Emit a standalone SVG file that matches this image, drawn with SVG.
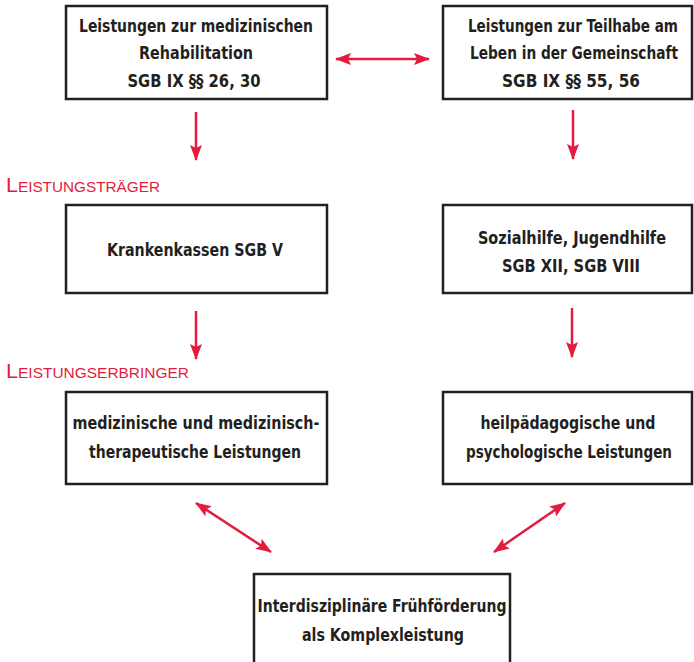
<svg xmlns="http://www.w3.org/2000/svg" width="694" height="662" viewBox="0 0 694 662">
<style>
.box{fill:#fff;stroke:#231f20;stroke-width:2.5}
.t{font-family:"DejaVu Sans Condensed","DejaVu Sans",sans-serif;font-weight:bold;font-size:18px;fill:#231f20;text-anchor:middle}
.lbl{font-family:"Liberation Sans",sans-serif;fill:#e31c3d;font-size:15px}
.lbl .big{font-size:21px}
.arr{stroke:#e31c3d;stroke-width:2.5;fill:none;marker-end:url(#ah)}
.dbl{marker-start:url(#ah)}
</style>
<defs>
<marker id="ah" viewBox="0 0 16 12" refX="15" refY="6" markerWidth="16" markerHeight="12" markerUnits="userSpaceOnUse" orient="auto-start-reverse">
<path d="M0,0 L16,6 L0,12 L3,6 Z" fill="#e31c3d"/>
</marker>
</defs>
<rect width="694" height="662" fill="#fff"/>
<g id="connectors">
<line class="arr dbl" x1="336" y1="59" x2="429" y2="59"/>
<line class="arr" x1="196" y1="112" x2="196" y2="160"/>
<line class="arr" x1="573" y1="110" x2="573" y2="159"/>
<line class="arr" x1="196" y1="311" x2="196" y2="359"/>
<line class="arr" x1="572" y1="308" x2="572" y2="357"/>
<line class="arr dbl" x1="196" y1="503" x2="271" y2="552"/>
<line class="arr dbl" x1="565" y1="503" x2="494" y2="552"/>
</g>
<g id="label-traeger"><text class="lbl" x="6" y="192" textLength="154" lengthAdjust="spacingAndGlyphs"><tspan class="big">L</tspan>EISTUNGSTRÄGER</text></g>
<g id="label-erbringer"><text class="lbl" x="6" y="378" textLength="183" lengthAdjust="spacingAndGlyphs"><tspan class="big">L</tspan>EISTUNGSERBRINGER</text></g>
<g id="n1">
<rect class="box" x="66" y="6" width="261" height="93"/>
<g transform="scale(0.85,1)">
<text class="t" x="230.6" y="32" textLength="275.3" lengthAdjust="spacingAndGlyphs">Leistungen zur medizinischen</text>
<text class="t" x="230.6" y="59" textLength="134.1" lengthAdjust="spacingAndGlyphs">Rehabilitation</text>
<text class="t" x="228.2" y="87" textLength="156.5" lengthAdjust="spacingAndGlyphs">SGB IX §§ 26, 30</text>
</g>
</g>
<g id="n2">
<rect class="box" x="443" y="6" width="249" height="93"/>
<g transform="scale(0.85,1)">
<text class="t" x="674.1" y="32" textLength="247.1" lengthAdjust="spacingAndGlyphs">Leistungen zur Teilhabe am</text>
<text class="t" x="675.3" y="59" textLength="244.7" lengthAdjust="spacingAndGlyphs">Leben in der Gemeinschaft</text>
<text class="t" x="671.8" y="87" textLength="162.4" lengthAdjust="spacingAndGlyphs">SGB IX §§ 55, 56</text>
</g>
</g>
<g id="n3">
<rect class="box" x="66" y="205" width="261" height="88"/>
<g transform="scale(0.85,1)">
<text class="t" x="229.4" y="256" textLength="207.1" lengthAdjust="spacingAndGlyphs">Krankenkassen SGB V</text>
</g>
</g>
<g id="n4">
<rect class="box" x="443" y="205" width="249" height="88"/>
<g transform="scale(0.85,1)">
<text class="t" x="672.9" y="244" textLength="221.2" lengthAdjust="spacingAndGlyphs">Sozialhilfe, Jugendhilfe</text>
<text class="t" x="671.8" y="272" textLength="162.4" lengthAdjust="spacingAndGlyphs">SGB XII, SGB VIII</text>
</g>
</g>
<g id="n5">
<rect class="box" x="66" y="392" width="261" height="92"/>
<g transform="scale(0.85,1)">
<text class="t" x="230.6" y="429" textLength="290.6" lengthAdjust="spacingAndGlyphs">medizinische und medizinisch-</text>
<text class="t" x="229.4" y="458" textLength="249.4" lengthAdjust="spacingAndGlyphs">therapeutische Leistungen</text>
</g>
</g>
<g id="n6">
<rect class="box" x="443" y="392" width="249" height="92"/>
<g transform="scale(0.85,1)">
<text class="t" x="668.2" y="429" textLength="205.9" lengthAdjust="spacingAndGlyphs">heilpädagogische und</text>
<text class="t" x="669.4" y="458" textLength="242.4" lengthAdjust="spacingAndGlyphs">psychologische Leistungen</text>
</g>
</g>
<g id="n7">
<rect class="box" x="254" y="574" width="256" height="95"/>
<g transform="scale(0.85,1)">
<text class="t" x="449.4" y="612" textLength="292.9" lengthAdjust="spacingAndGlyphs">Interdisziplinäre Frühförderung</text>
<text class="t" x="450.6" y="641" textLength="190.6" lengthAdjust="spacingAndGlyphs">als Komplexleistung</text>
</g>
</g>
</svg>
